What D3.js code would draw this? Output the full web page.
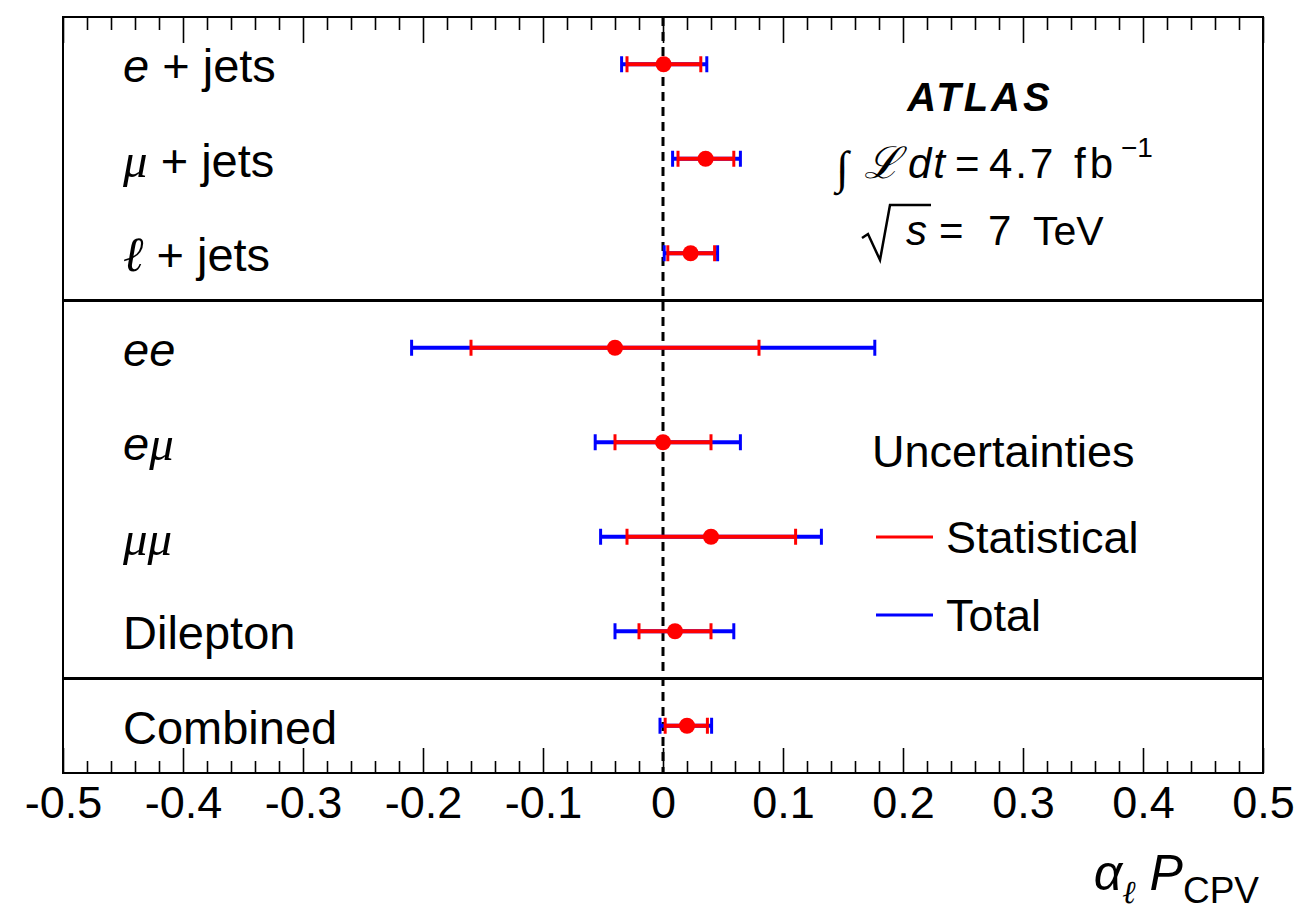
<!DOCTYPE html>
<html>
<head>
<meta charset="utf-8">
<script src="https://cdn.jsdelivr.net/npm/d3@7"></script>
<style>
  body { margin: 0; background: #fff; }
  text { font-family: "Liberation Sans", Helvetica, Arial, sans-serif; fill: #000; }
  .it { font-style: italic; }
  .serif { font-family: "Liberation Serif", "DejaVu Serif", serif; font-style: italic; }
</style>
</head>
<body>
<div id="chart"></div>
<script>
const w = 1296;
const h = 913;

// measurements, top to bottom
const categories = ["ejets", "mujets", "ljets", "ee", "emu", "mumu", "dilepton", "combined"];
const labelParts = [
    [{t: "e", c: "it"}, {t: " + jets"}],
    [{t: "μ", c: "serif"}, {t: " + jets"}],
    [{t: "ℓ", c: "serif"}, {t: " + jets"}],
    [{t: "ee", c: "it"}],
    [{t: "e", c: "it"}, {t: "μ", c: "serif"}],
    [{t: "μμ", c: "serif"}],
    [{t: "Dilepton"}],
    [{t: "Combined"}]
];
const central = [0.0005, 0.0355, 0.023, -0.040, 0.0, 0.040, 0.010, 0.020];
const statLo  = [-0.030, 0.0125, 0.004, -0.160, -0.040, -0.030, -0.020, 0.0018];
const statHi  = [0.0315, 0.059, 0.043, 0.080, 0.040, 0.1105, 0.040, 0.037];
const totLo   = [-0.0345, 0.008, 0.001, -0.2095, -0.0565, -0.052, -0.040, -0.0025];
const totHi   = [0.0365, 0.0645, 0.0455, 0.1765, 0.0645, 0.132, 0.059, 0.0405];
const separators = ["ee", "combined"];

const majorTicks = [-0.5, -0.4, -0.3, -0.2, -0.1, 0, 0.1, 0.2, 0.3, 0.4, 0.5];
const minorTicks = d3.range(-25, 26).map(i => i / 50).filter(v => Math.abs(v * 10 - Math.round(v * 10)) > 1e-6);

const rows = categories.map((c, i) => ({
    key: c, parts: labelParts[i], v: central[i],
    sLo: statLo[i], sHi: statHi[i], tLo: totLo[i], tHi: totHi[i]
}));

const margin = {left: 63, right: 33, top: 17, bottom: 140};

const svg = d3.select("#chart").append("svg")
    .attr("width", w).attr("height", h);

const x = d3.scaleLinear().domain([-0.5, 0.5]).range([margin.left, w - margin.right]);
const y = d3.scaleBand().domain(categories).range([margin.top, h - margin.bottom]).paddingInner(0).paddingOuter(0);
const yc = k => y(k) + y.bandwidth() / 2;

// axes (ticks point inwards)
const fmt = d => d === 0 ? "0" : String(+d.toFixed(1));
const bottomMajor = svg.append("g")
    .attr("transform", "translate(0," + (h - margin.bottom) + ")")
    .call(d3.axisBottom(x).tickValues(majorTicks).tickSize(-25).tickFormat(fmt));
bottomMajor.selectAll("text").attr("y", 45).attr("dy", 0)
    .style("font-size", "45px").style("font-family", "'Liberation Sans', Helvetica, Arial, sans-serif");
svg.append("g")
    .attr("transform", "translate(0," + (h - margin.bottom) + ")")
    .call(d3.axisBottom(x).tickValues(minorTicks).tickSize(-12).tickFormat(""));
svg.append("g")
    .attr("transform", "translate(0," + margin.top + ")")
    .call(d3.axisTop(x).tickValues(majorTicks).tickSize(-26).tickFormat(""));
svg.append("g")
    .attr("transform", "translate(0," + margin.top + ")")
    .call(d3.axisTop(x).tickValues(minorTicks).tickSize(-13).tickFormat(""));
svg.selectAll(".domain").remove();
svg.selectAll(".tick line").attr("stroke", "#000").attr("stroke-width", 1.6);

// frame
svg.append("rect")
    .attr("x", x(-0.5)).attr("y", margin.top)
    .attr("width", x(0.5) - x(-0.5)).attr("height", h - margin.bottom - margin.top)
    .attr("fill", "none").attr("stroke", "#000").attr("stroke-width", 2);

// separators between groups
svg.selectAll("line.sep")
    .data(separators)
    .enter()
    .append("line")
    .attr("class", "sep")
    .attr("x1", x(-0.5)).attr("x2", x(0.5))
    .attr("y1", d => y(d)).attr("y2", d => y(d))
    .attr("stroke", "#000").attr("stroke-width", 3);

// zero line
svg.append("line")
    .attr("x1", x(0)).attr("x2", x(0))
    .attr("y1", margin.top).attr("y2", h - margin.bottom)
    .attr("stroke", "#000").attr("stroke-width", 3)
    .attr("stroke-dasharray", "9,6");

// error bars
function bars(cls, lo, hi, color) {
    const g = svg.selectAll("g." + cls)
        .data(rows)
        .enter()
        .append("g")
        .attr("class", cls);
    g.append("line")
        .attr("x1", d => x(d[lo])).attr("x2", d => x(d[hi]))
        .attr("y1", d => yc(d.key)).attr("y2", d => yc(d.key))
        .attr("stroke", color).attr("stroke-width", 4);
    [lo, hi].forEach(k => {
        g.append("line")
            .attr("x1", d => x(d[k])).attr("x2", d => x(d[k]))
            .attr("y1", d => yc(d.key) - 8).attr("y2", d => yc(d.key) + 8)
            .attr("stroke", color).attr("stroke-width", 3);
    });
}
bars("tot", "tLo", "tHi", "#0000ff");
bars("stat", "sLo", "sHi", "#ff0000");

svg.selectAll("circle.pt")
    .data(rows)
    .enter()
    .append("circle")
    .attr("class", "pt")
    .attr("cx", d => x(d.v))
    .attr("cy", d => yc(d.key))
    .attr("r", 8)
    .attr("fill", "#ff0000");

// row labels
const lab = svg.selectAll("text.lab")
    .data(rows)
    .enter()
    .append("text")
    .attr("class", "lab")
    .attr("x", 123)
    .attr("y", d => yc(d.key) + 18)
    .style("font-size", "47px");
lab.each(function(d) {
    const t = d3.select(this);
    d.parts.forEach(p => {
        t.append("tspan").attr("class", p.c || null)
            .style("font-size", p.c === "serif" ? "49px" : null)
            .text(p.t);
    });
});

// ATLAS block
svg.append("text")
    .attr("x", 980).attr("y", 111)
    .attr("text-anchor", "middle")
    .style("font-size", "40px").style("font-weight", "bold").style("font-style", "italic")
    .style("letter-spacing", "3px")
    .text("ATLAS");

function put(txt, px, py, size, cls, ls) {
    return svg.append("text")
        .attr("x", px).attr("y", py)
        .attr("class", cls || null)
        .style("font-size", size + "px")
        .style("letter-spacing", (ls || 0) + "px")
        .text(txt);
}
put("∫", 836, 183, 46, "serif");
put("ℒ", 864, 178, 44, "serif");
put("dt", 908, 178, 42, "it", 2);
put("=", 955, 178, 42);
put("4.7", 989, 178, 42, null, 3);
put("fb", 1074, 178, 42, null, 4);
put("−1", 1121, 157, 28);

// sqrt(s)
svg.append("path")
    .attr("d", "M862,238 L868,234 L880,260 L890,205 L931,205")
    .attr("fill", "none").attr("stroke", "#000").attr("stroke-width", 2.5);
put("s", 906, 245, 42, "it");
put("=", 939, 245, 42);
put("7", 988, 245, 42);
put("TeV", 1033, 245, 41);

// legend
svg.append("text")
    .attr("x", 872).attr("y", 467)
    .style("font-size", "45px")
    .text("Uncertainties");
const legendItems = [{name: "Statistical", color: "#ff0000", y: 537}, {name: "Total", color: "#0000ff", y: 615}];
svg.selectAll("line.leg")
    .data(legendItems)
    .enter()
    .append("line")
    .attr("class", "leg")
    .attr("x1", 876).attr("x2", 933)
    .attr("y1", d => d.y).attr("y2", d => d.y)
    .attr("stroke", d => d.color).attr("stroke-width", 3);
svg.selectAll("text.leg")
    .data(legendItems)
    .enter()
    .append("text")
    .attr("class", "leg")
    .attr("x", 946).attr("y", d => d.y + 16)
    .style("font-size", "45px")
    .text(d => d.name);

// x axis title
const xt = svg.append("text")
    .attr("x", 1259).attr("y", 890)
    .attr("text-anchor", "end")
    .style("font-size", "50px");
xt.append("tspan").attr("class", "it").text("α");
xt.append("tspan").attr("class", "serif").attr("dy", 13).style("font-size", "32px").text("ℓ");
xt.append("tspan").attr("class", "it").attr("dy", -13).attr("dx", 14).text("P");
xt.append("tspan").attr("dy", 13).style("font-size", "37px").text("CPV");
</script>
</body>
</html>
